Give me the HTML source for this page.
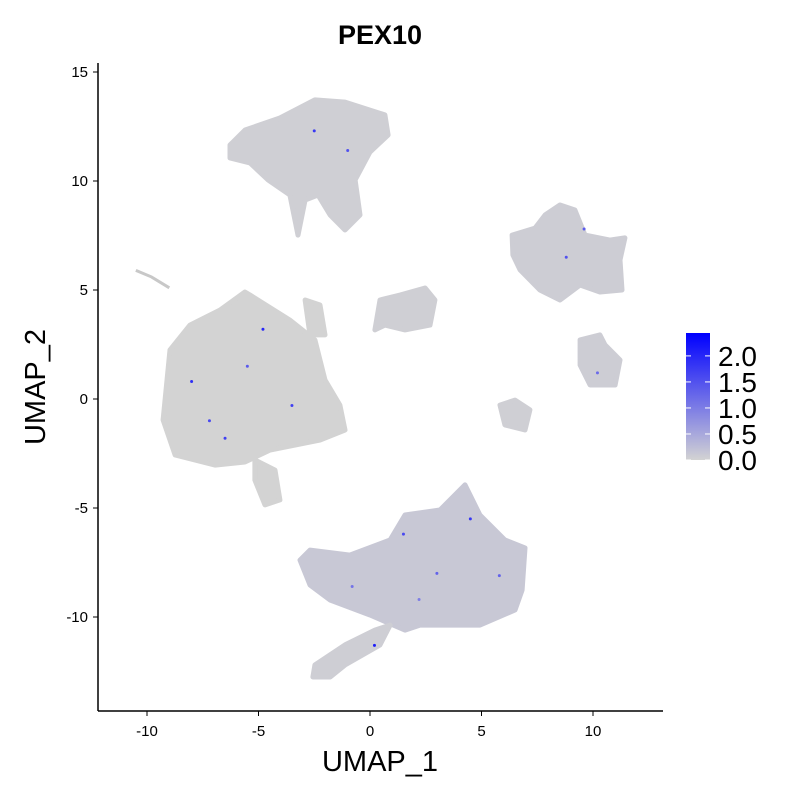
<!DOCTYPE html>
<html><head><meta charset="utf-8">
<style>
html,body{margin:0;padding:0;background:#fff;}
svg text{font-family:"Liberation Sans",sans-serif;}
</style></head>
<body>
<svg id="chart" width="800" height="800" xmlns="http://www.w3.org/2000/svg">
<defs>
<linearGradient id="cbar" x1="0" y1="1" x2="0" y2="0">
<stop offset="0" stop-color="#d3d3d3"/><stop offset="1" stop-color="#0000ff"/>
</linearGradient>
</defs>
<text x="380" y="44" font-size="27" font-weight="bold" text-anchor="middle">PEX10</text>
<g id="plot"></g>
<line x1="98" y1="711" x2="663" y2="711" stroke="#000" stroke-width="1.5"/>
<line x1="98" y1="63" x2="98" y2="711" stroke="#000" stroke-width="1.5"/>
<g id="xticks"></g>
<g id="yticks"></g>
<text x="380" y="771" font-size="29" text-anchor="middle">UMAP_1</text>
<text x="0" y="0" font-size="29" text-anchor="middle" transform="translate(45,387) rotate(-90)">UMAP_2</text>
<g>
<rect x="686" y="333" width="24" height="127" fill="url(#cbar)"/>
<g id="legticks"></g>
</g>
</svg>
<script>
const xTicks=[-10,-5,0,5,10];
const yTicks=[15,10,5,0,-5,-10];
const legendTicks=[0.0,0.5,1.0,1.5,2.0];
const legendMax=2.44;
const clusterNames=["top","left","left-tail","left-strand","middle","right-top","right-middle","right-small","bottom","bottom-tail"];
const clusterTint=[0.05,0.0,0.0,0.0,0.05,0.07,0.07,0.05,0.13,0.06];
const clusterPolys=[
[[-6.28,11.65],[-5.6,12.34],[-4.04,12.89],[-2.47,13.72],[-1.12,13.62],[0.67,13.03],[0.81,12.11],[0,11.33],[-0.67,10.05],[-0.45,8.44],[-1.12,7.75],[-1.79,8.44],[-2.33,9.36],[-2.91,9.13],[-3.23,7.52],[-3.59,9.36],[-4.57,10.05],[-5.38,10.83],[-6.28,11.06]],
[[-5.38,4.77],[-3.59,3.62],[-2.47,2.71],[-2.02,0.87],[-1.35,-0.28],[-1.12,-1.42],[-2.24,-1.88],[-4.48,-2.34],[-5.61,-2.89],[-6.95,-3.03],[-8.74,-2.57],[-9.28,-0.96],[-8.97,2.25],[-8.07,3.39],[-6.73,4.08],[-5.61,4.91]],
[[-5.16,-2.8],[-4.26,-3.26],[-4.04,-4.63],[-4.71,-4.86],[-5.16,-3.72]],
[[-2.91,4.54],[-2.24,4.31],[-2.02,2.94],[-2.69,2.94]],
[[0.45,4.54],[1.35,4.77],[2.47,5.09],[2.91,4.54],[2.69,3.39],[1.57,3.17],[0.67,3.39],[0.22,3.17]],
[[6.37,7.52],[7.4,7.84],[7.85,8.44],[8.52,8.9],[9.19,8.67],[9.64,7.52],[10.76,7.29],[11.43,7.39],[11.21,6.38],[11.3,5.0],[10.31,4.91],[9.42,5.23],[8.52,4.54],[7.62,5.0],[6.73,5.92],[6.41,6.61]],
[[9.42,2.71],[10.31,2.94],[10.54,2.48],[11.21,1.79],[10.99,0.64],[9.87,0.64],[9.42,1.56]],
[[5.83,-0.28],[6.5,-0.05],[7.17,-0.5],[6.95,-1.42],[6.05,-1.19]],
[[-2.69,-6.93],[-0.9,-7.16],[0.9,-6.47],[1.57,-5.32],[3.14,-5.09],[4.26,-3.94],[4.93,-5.32],[6.05,-6.47],[6.95,-6.83],[6.82,-8.76],[6.5,-9.68],[4.93,-10.37],[2.24,-10.37],[1.57,-10.6],[0,-9.91],[-1.79,-9.22],[-2.69,-8.53],[-3.14,-7.39]],
[[-2.47,-12.2],[-1.12,-11.28],[0.22,-10.6],[0.9,-10.37],[0.45,-11.28],[-1.12,-12.2],[-1.79,-12.75],[-2.56,-12.75]]
];
const strandX=[-10.5,-9.8,-9.0];
const strandY=[5.9,5.6,5.1];
const hiX=[-2.5,-1.0,-8.0,-7.2,-5.5,-3.5,-4.8,0.2,1.5,3.0,4.5,8.8,9.6,10.2,-0.8,-6.5,2.2,5.8];
const hiY=[12.3,11.4,0.8,-1.0,1.5,-0.3,3.2,-11.3,-6.2,-8.0,-5.5,6.5,7.8,1.2,-8.6,-1.8,-9.2,-8.1];
const hiV=[1.8,1.5,1.9,1.6,1.4,1.7,2.0,2.1,1.6,1.3,1.8,1.5,1.4,1.2,1.1,1.7,1.0,1.3];

const X=v=>370+v*22.3, Y=v=>399-v*21.8;
const NS="http://www.w3.org/2000/svg";
function mk(t,a,p){const e=document.createElementNS(NS,t);for(const k in a)e.setAttribute(k,a[k]);p.appendChild(e);return e;}
function mix(v){const t=Math.min(v/legendMax,1);const r=Math.round(211*(1-t)),g=r,b=Math.round(211+(255-211)*t);return `rgb(${r},${g},${b})`;}
const plot=document.getElementById('plot');
clusterPolys.forEach((poly,i)=>{
  const d=poly.map((p,j)=>(j?'L':'M')+X(p[0]).toFixed(1)+','+Y(p[1]).toFixed(1)).join('')+'Z';
  const c=mix(clusterTint[i]);
  const e=mk('path',{d:d,fill:c,stroke:c,'stroke-width':5,'stroke-linejoin':'round'},plot);
  
  
});
const s=mk('polyline',{points:strandX.map((x,i)=>X(x)+','+Y(strandY[i])).join(' '),fill:'none',stroke:'#c8c8c8','stroke-width':3},plot);


hiX.forEach((x,i)=>{
  const c=mk('circle',{cx:X(x),cy:Y(hiY[i]),r:1.5,fill:mix(hiV[i])},plot);
  
  
});
const xt=document.getElementById('xticks');
xTicks.forEach(v=>{
  mk('line',{x1:X(v),y1:711,x2:X(v),y2:716,stroke:'#000'},xt);
  const t=mk('text',{x:X(v),y:736,'font-size':15,'text-anchor':'middle'},xt);t.textContent=v;
  
  
});
const yt=document.getElementById('yticks');
yTicks.forEach(v=>{
  mk('line',{x1:93,y1:Y(v),x2:98,y2:Y(v),stroke:'#000'},yt);
  const t=mk('text',{x:88,y:Y(v)+5,'font-size':15,'text-anchor':'end'},yt);t.textContent=v;
  
  
});
const lg=document.getElementById('legticks');
legendTicks.forEach(v=>{
  const y=460-(v/legendMax)*127;
  mk('line',{x1:686,y1:y,x2:691,y2:y,stroke:'#fff'},lg);
  mk('line',{x1:705,y1:y,x2:710,y2:y,stroke:'#fff'},lg);
  const t=mk('text',{x:718,y:y+10,'font-size':28},lg);t.textContent=v.toFixed(1);
  
  
});
</script>
</body></html>
